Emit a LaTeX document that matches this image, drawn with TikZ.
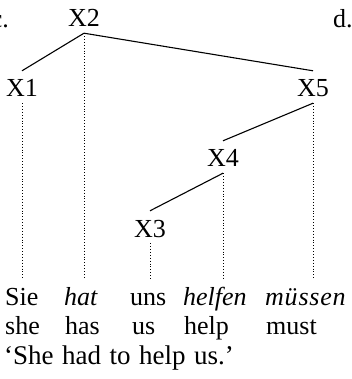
\documentclass[tikz,border=0pt]{standalone}
\usepackage{fontspec}
\setmainfont{Liberation Serif}
\begin{document}
\begin{tikzpicture}[x=1pt,y=-1pt,
  lab/.style={inner sep=0pt, anchor=base, text height=26pt, text depth=6pt, font=\fontsize{26}{30}\selectfont},
  word/.style={inner sep=0pt, anchor=base west, text height=26pt, text depth=0pt, font=\fontsize{26}{30}\selectfont},
  branch/.style={line width=1.1pt},
  proj/.style={line width=0.9pt, dash pattern=on 0.9pt off 2pt}]
\useasboundingbox (0,0) rectangle (352,379);
% example letters
\node[word, anchor=base east] (c) at (9,28) {c.};
\node[word] (d) at (333,28) {d.};
% tree nodes
\node[lab] (X2) at (84,27) {X2};
\node[lab] (X1) at (22,97) {X1};
\node[lab] (X5) at (313,97) {X5};
\node[lab] (X4) at (223,167) {X4};
\node[lab] (X3) at (150,237) {X3};
% words
\node[word] (w1) at (5,305) {Sie};
\node[word] (w2) at (64,305) {\itshape hat};
\node[word] (w3) at (130,305) {uns};
\node[word] (w4) at (183,305) {\itshape helfen};
\node[word] (w5) at (265,305) {\itshape\addfontfeature{LetterSpace=3}müssen};
\node[word] (g1) at (5,334.5) {she};
\node[word] (g2) at (65,334.5) {has};
\node[word] (g3) at (132,334.5) {us};
\node[word] (g4) at (184,334.5) {help};
\node[word] (g5) at (266,334.5) {must};
\node[word, font=\fontsize{27}{30}\selectfont] (tr) at (4,364) {\spaceskip=8.5pt ‘She had to help us.’};
% branches
\draw[branch] (X2.south) -- (X1.north);
\draw[branch] (X2.south) -- (X5.north);
\draw[branch] (X5.south) -- (X4.north);
\draw[branch] (X4.south) -- (X3.north);
% projection lines
\draw[proj] (X1.south) -- (X1.south |- w1.north);
\draw[proj] (X2.south) -- (X2.south |- w2.north);
\draw[proj] (X3.south) -- (X3.south |- w3.north);
\draw[proj] (X4.south) -- (X4.south |- w4.north);
\draw[proj] (X5.south) -- (X5.south |- w5.north);
\end{tikzpicture}
\end{document}
